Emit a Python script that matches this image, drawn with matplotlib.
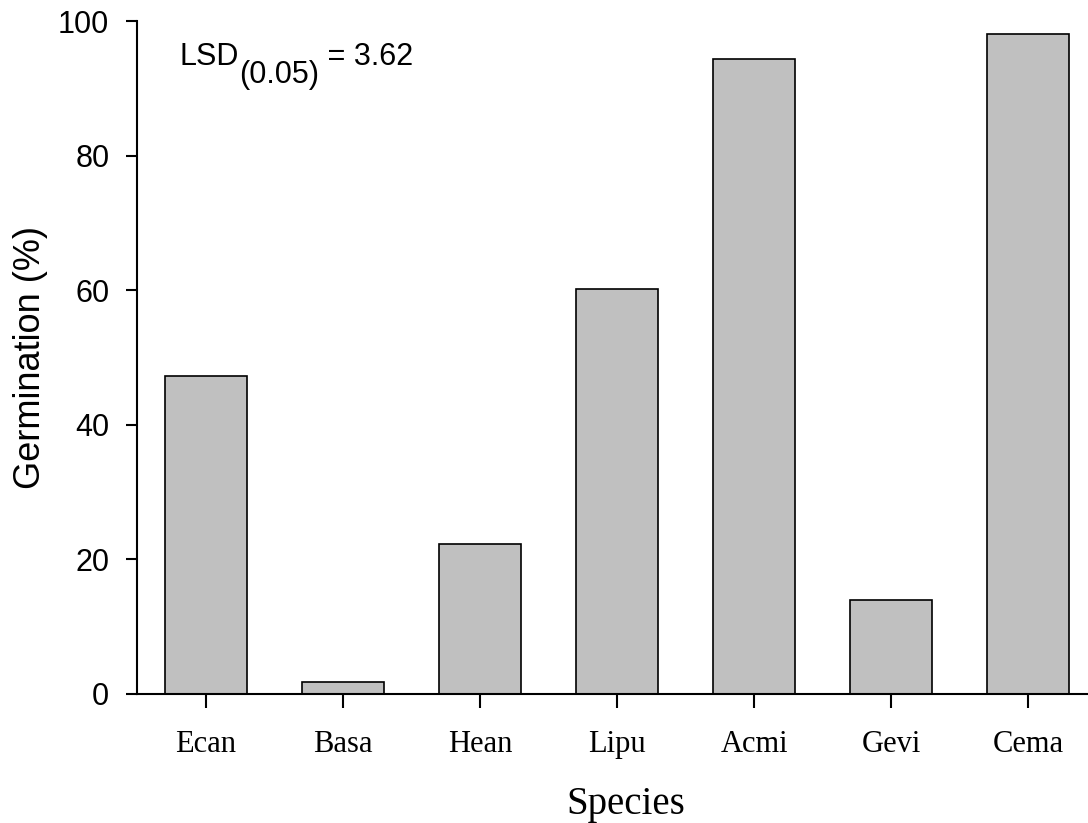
import numpy as np
import matplotlib.pyplot as plt

species = ['Ecan', 'Basa', 'Hean', 'Lipu', 'Acmi', 'Gevi', 'Cema']
germination = [47.2, 1.7, 22.3, 60.2, 94.4, 14.0, 98.2]
lsd_value = 3.62

plt.rcParams['font.family'] = 'Liberation Sans'

fig = plt.figure(figsize=(10.88, 8.23), dpi=100)
ax = fig.add_axes([0.126, 0.157, 0.874, 0.817])

x = np.arange(len(species))
ax.bar(x, germination, width=0.6, color='#c0c0c0', edgecolor='black', linewidth=1.2)

ax.set_xlim(-0.5, 6.435)
ax.set_ylim(0, 100)
ax.set_yticks([0, 20, 40, 60, 80, 100])
ax.set_xticks(x)
ax.set_xticklabels(species, family='Liberation Serif', fontsize=22)

for s in ['top', 'right']:
    ax.spines[s].set_visible(False)
for s in ['left', 'bottom']:
    ax.spines[s].set_linewidth(1.5)

ax.tick_params(axis='y', direction='out', length=8, width=1.5, labelsize=22, pad=12)
ax.tick_params(axis='x', direction='out', length=10, width=1.5, pad=16)

ax.set_ylabel('Germination (%)', fontsize=26)
ax.set_xlabel('Species', family='Liberation Serif', fontsize=28)
# axis label positions in axes fraction
ax.yaxis.set_label_coords(-0.1125, 0.5)
ax.xaxis.set_label_coords(0.514, -0.164)
ax.xaxis.label.set_va('center')
ax.yaxis.label.set_va('center')

# LSD annotation built from pieces so the subscript stays full size
fig.canvas.draw()
r = fig.canvas.get_renderer()
t1 = fig.text(180 / 1088, 1 - 65 / 823, 'LSD', fontsize=22, va='baseline')
bb = t1.get_window_extent(r)
t2 = fig.text(bb.x1 / 1088, 1 - 83 / 823, '(0.05)', fontsize=22, va='baseline')
bb = t2.get_window_extent(r)
fig.text(bb.x1 / 1088, 1 - 65 / 823, ' = %.2f' % lsd_value, fontsize=22, va='baseline')

fig.savefig('out.png', dpi=100)
